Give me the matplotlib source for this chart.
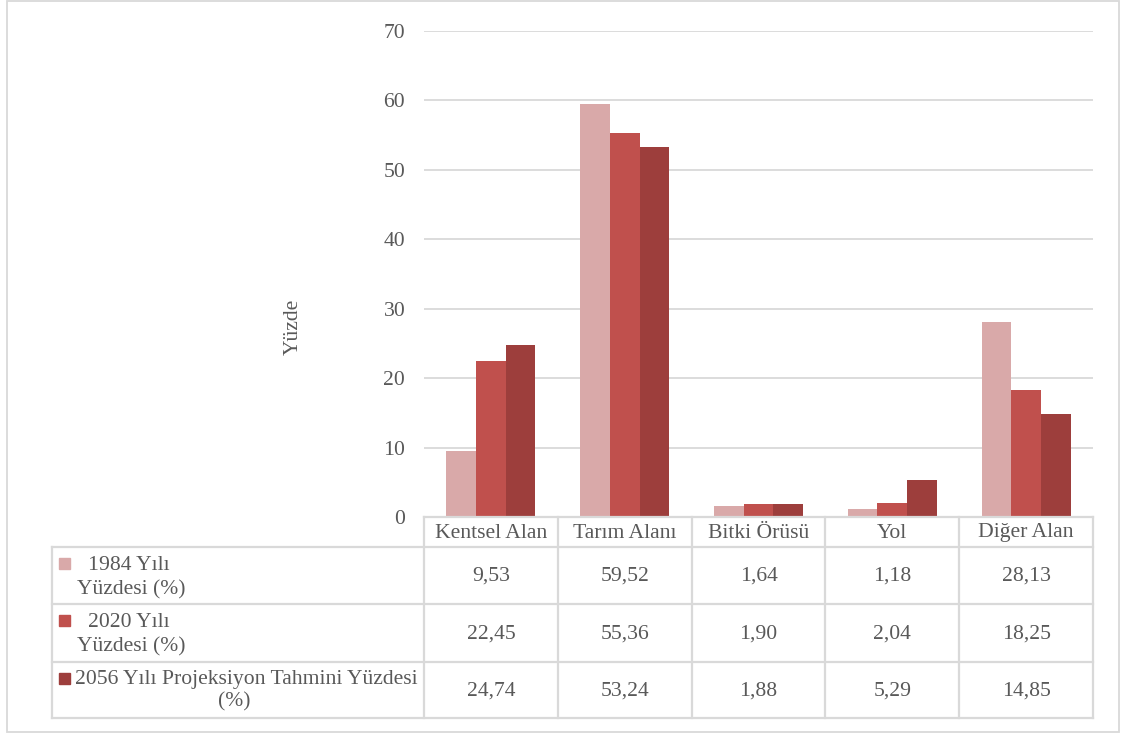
import matplotlib
matplotlib.use("Agg")
import matplotlib.pyplot as plt
import matplotlib.transforms as mtransforms
from matplotlib.lines import Line2D
from matplotlib.patches import Rectangle
import numpy as np

# ---------------- data ----------------
categories = ["Kentsel Alan", "Tarım Alanı", "Bitki Örüsü", "Yol", "Diğer Alan"]
series_names = ["1984 Yılı\nYüzdesi (%)", "2020 Yılı\nYüzdesi (%)",
                "2056 Yılı Projeksiyon Tahmini Yüzdesi\n(%)"]
values_1984 = [9.53, 59.52, 1.64, 1.18, 28.13]
values_2020 = [22.45, 55.36, 1.90, 2.04, 18.25]
values_2056 = [24.74, 53.24, 1.88, 5.29, 14.85]
y_ticks = [0, 10, 20, 30, 40, 50, 60, 70]
y_label = "Yüzde"

series_values = [values_1984, values_2020, values_2056]
colors = ["#D9A9A9", "#C0504D", "#9D3E3C"]
text_color = "#595959"
line_color = "#D9D9D9"

# ---------------- layout ----------------
W, H = 1121, 734
plt.rcParams["font.family"] = ["Liberation Serif", "DejaVu Serif"]
FS = 15.6

fig = plt.figure(figsize=(W / 100, H / 100), dpi=100)


def fx(x):
    return x / W


def fy(y):
    return 1 - y / H


ax_left, ax_right, ax_top, ax_bottom = 424, 1093, 31, 517
ax = fig.add_axes([fx(ax_left), fy(ax_bottom), fx(ax_right - ax_left), (ax_bottom - ax_top) / H])

n = len(categories)
x = np.arange(n)
bw = 0.222
for k, (vals, c) in enumerate(zip(series_values, colors)):
    ax.bar(x + (k - 1) * bw, vals, width=bw, color=c, zorder=3)

ax.set_xlim(-0.5, n - 0.5)
ax.set_ylim(0, 70)
ax.set_yticks(y_ticks)
ax.set_yticklabels([str(t) for t in y_ticks], fontsize=FS, color=text_color)
ax.set_xticks([])
ax.tick_params(axis="y", length=0, pad=13.5)
ax.grid(axis="y", color=line_color, linewidth=1.3, zorder=0)
for s in ax.spines.values():
    s.set_visible(False)

fig.text(fx(293), fy(327), y_label, rotation=90, ha="center", va="center",
         fontsize=FS, color=text_color)

# ---------------- data table ----------------
bt = mtransforms.blended_transform_factory(ax.transData, fig.transFigure)
row_lines = [517, 547, 604, 662, 718]
table_left = 52
lw = 1.6

# header top line (only under plot)
fig.add_artist(Line2D([-0.5, n - 0.5], [fy(row_lines[0])] * 2, transform=bt,
                      color=line_color, lw=lw))
# other horizontal lines across full table
for yl in row_lines[1:]:
    fig.add_artist(Line2D([fx(table_left), fx(ax_right)], [fy(yl)] * 2,
                          transform=fig.transFigure, color=line_color, lw=lw))
# vertical lines
for b in np.arange(-0.5, n, 1.0):
    fig.add_artist(Line2D([b, b], [fy(row_lines[0]), fy(row_lines[-1])], transform=bt,
                          color=line_color, lw=lw))
fig.add_artist(Line2D([fx(table_left)] * 2, [fy(row_lines[1]), fy(row_lines[-1])],
                      transform=fig.transFigure, color=line_color, lw=lw))

# header labels
for i, cat in enumerate(categories):
    fig.text(i, fy(533), cat, transform=bt, ha="center", va="center",
             fontsize=FS, color=text_color)

# values
for r, vals in enumerate(series_values):
    yc = (row_lines[r + 1] + row_lines[r + 2]) / 2
    for i, v in enumerate(vals):
        fig.text(i, fy(yc + 1), f"{v:.2f}".replace(".", ","), transform=bt,
                 ha="center", va="center", fontsize=FS, color=text_color)

# legend keys + series names
for r, (name, c) in enumerate(zip(series_names, colors)):
    top = row_lines[r + 1]
    fig.add_artist(Rectangle((fx(59), fy(top + 22)), fx(11), 11 / H,
                             transform=fig.transFigure, color=c))
    l1, l2 = name.split("\n")
    if r < 2:
        fig.text(fx(88), fy(top + 23), l1, ha="left", va="baseline",
                 fontsize=FS, color=text_color)
        fig.text(fx(77), fy(top + 47), l2, ha="left", va="baseline",
                 fontsize=FS, color=text_color)
    else:
        fig.text(fx(75), fy(top + 22), l1, ha="left", va="baseline",
                 fontsize=FS, color=text_color)
        fig.text(fx(234), fy(top + 44), l2, ha="center", va="baseline",
                 fontsize=FS, color=text_color)

# outer border
fig.add_artist(Rectangle((fx(7), fy(732)), fx(1119 - 7), (732 - 1) / H,
                         transform=fig.transFigure, fill=False,
                         edgecolor=line_color, lw=1.3))

fig.savefig("out.png", dpi=100, facecolor="white")
